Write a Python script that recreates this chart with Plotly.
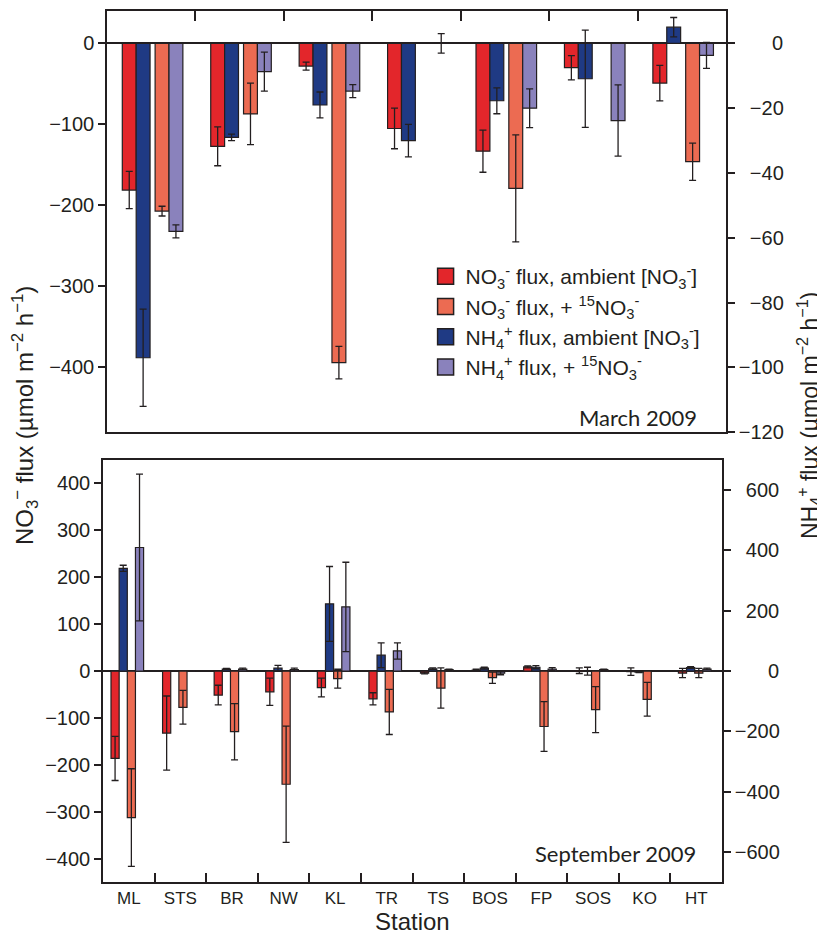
import plotly.graph_objects as go

# ---------------- data ----------------
# March 2009 (7 station groups; the panel shows no station labels)
mar_groups = ["M1", "M2", "M3", "M4", "M5", "M6", "M7"]
mar_no3_amb = [-181, -127, -28, -105, -133, -30, -49]
mar_no3_amb_err = [23, 24, 5, 25, 26, 15, 22]
mar_no3_15 = [-207, -87, -394, None, -179, None, -146]
mar_no3_15_err = [6, 38, 20, None, 66, None, 23]
mar_nh4_amb = [-97, -29, -19, -30, -17.7, -10.9, 5]          # right axis units
mar_nh4_amb_err = [15, 1, 4, 5, 4, 15, 3]
mar_nh4_15 = [-58, -8.7, -14.7, 0, -20, -23.8, -3.7]          # right axis units
mar_nh4_15_err = [2, 6, 2, 3, 6, 11, 4]

# September 2009
sep_stations = ["ML", "STS", "BR", "NW", "KL", "TR", "TS", "BOS", "FP", "SOS", "KO", "HT"]
sep_no3_amb = [-186, -132, -51, -44, -35, -59, -4, 2, 9, 1, -1, -4]
sep_no3_amb_err = [47, 79, 21, 29, 20, 13, 2, 2, 2, 6, 8, 10]
sep_no3_15 = [-312, -77, -129, -241, -16, -87, -36, -14, -118, -82, -60, -4]
sep_no3_15_err = [104, 36, 60, 124, 20, 48, 43, 12, 53, 49, 36, 10]
sep_nh4_amb = [341, 0, 7, 10, 223, 53, 8, 10, 13, 0, -3, 12]      # right axis units
sep_nh4_amb_err = [10, 0, 2, 9, 124, 41, 3, 3, 5, 13, 2, 3]
sep_nh4_15 = [410, 1, 7, 5, 213, 67, 5, -7, 7, 5, 0, 7]           # right axis units
sep_nh4_15_err = [243, 0, 3, 5, 148, 27, 2, 5, 5, 2, 0, 3]

# tick labels
mar_left_ticks = [0, -100, -200, -300, -400]
mar_right_ticks = [0, -20, -40, -60, -80, -100, -120]
mar_right_text = ["\u2007\u2007\u20070", "\u2007\u221220", "\u2007\u221240", "\u2007\u221260",
                  "\u2007\u221280", "\u2212100", "\u2212120"]
sep_left_ticks = [400, 300, 200, 100, 0, -100, -200, -300, -400]
sep_right_ticks = [600, 400, 200, 0, -200, -400, -600]
sep_right_text = ["\u2007600", "\u2007400", "\u2007200", "\u2007\u2007\u20070",
                  "\u2212200", "\u2212400", "\u2212600"]

legend_names = [
    "NO<sub>3</sub><sup>-</sup> flux, ambient [NO<sub>3</sub><sup>-</sup>]",
    "NO<sub>3</sub><sup>-</sup> flux, + <sup>15</sup>NO<sub>3</sub><sup>-</sup>",
    "NH<sub>4</sub><sup>+</sup> flux, ambient [NO<sub>3</sub><sup>-</sup>]",
    "NH<sub>4</sub><sup>+</sup> flux, + <sup>15</sup>NO<sub>3</sub><sup>-</sup>",
]

# ---------------- style ----------------
RED = "#E3262B"
ORANGE = "#EC6B52"
BLUE = "#1F3A84"
PURPLE = "#8A82BC"
INK = "#231F20"
OX, OY = 8, 8            # page body margin of the html page
W, H = 825 - OX, 941 - OY
FONT = "Liberation Sans, Arial, sans-serif"


def px(x):
    return (x - OX) / W


def py(y):
    return 1 - (y - OY) / H


fig = go.Figure()


def add_bars(x, y, err, color, offset, width, xa, ya):
    fig.add_trace(go.Bar(
        x=x, y=y, offset=offset, width=width, xaxis=xa, yaxis=ya,
        marker=dict(color=color, line=dict(color=INK, width=1.2)),
        error_y=dict(type="data", array=err, color=INK, thickness=1.3, width=3.5),
        showlegend=False, hoverinfo="x+y"))


# top panel (March)
tw = 0.157
add_bars(mar_groups, mar_no3_amb, mar_no3_amb_err, RED, -0.327, tw, "x", "y")
add_bars(mar_groups, mar_nh4_amb, mar_nh4_amb_err, BLUE, -0.170, tw, "x", "y2")
add_bars(mar_groups, mar_no3_15, mar_no3_15_err, ORANGE, 0.044, tw, "x", "y")
add_bars(mar_groups, mar_nh4_15, mar_nh4_15_err, PURPLE, 0.201, tw, "x", "y2")

# bottom panel (September)
bw = 0.158
add_bars(sep_stations, sep_no3_amb, sep_no3_amb_err, RED, -0.345, bw, "x2", "y3")
add_bars(sep_stations, sep_nh4_amb, sep_nh4_amb_err, BLUE, -0.187, bw, "x2", "y4")
add_bars(sep_stations, sep_no3_15, sep_no3_15_err, ORANGE, -0.029, bw, "x2", "y3")
add_bars(sep_stations, sep_nh4_15, sep_nh4_15_err, PURPLE, 0.129, bw, "x2", "y4")

# legend entries
for name, col in zip(legend_names, [RED, ORANGE, BLUE, PURPLE]):
    fig.add_trace(go.Scatter(
        x=[None], y=[None], mode="markers", name=name, xaxis="x", yaxis="y",
        marker=dict(symbol="square", size=19, color=col, line=dict(color=INK, width=1.5))))

axis_common = dict(showgrid=False, showline=True, linecolor=INK, linewidth=1.5,
                   tickcolor=INK, tickwidth=1.5, automargin=False,
                   tickfont=dict(family=FONT, size=20, color=INK))
xaxis_common = dict(axis_common, tickfont=dict(family=FONT, size=17, color=INK))

fig.update_layout(
    width=W, height=H, template="none",
    paper_bgcolor="white", plot_bgcolor="white",
    margin=dict(l=0, r=0, t=0, b=0),
    font=dict(family=FONT, color=INK),
    barmode="overlay",
    showlegend=True,
    legend=dict(x=px(425.6), y=py(256), xanchor="left", yanchor="top",
                bgcolor="rgba(0,0,0,0)", font=dict(family=FONT, size=21, color=INK),
                itemsizing="trace", tracegroupgap=0),
    xaxis=dict(domain=[px(107), px(726)], anchor="y", side="top", type="category",
               categoryorder="array", categoryarray=mar_groups, range=[-0.5, 6.5],
               tickson="boundaries", ticks="inside", ticklen=10, showticklabels=False,
               mirror=True, zeroline=False, **xaxis_common),
    yaxis=dict(domain=[py(432.3), py(11)], anchor="x", range=[-480, 40],
               tickvals=mar_left_ticks, ticks="outside", ticklen=7,
               zeroline=True, zerolinecolor=INK, zerolinewidth=1.5, **axis_common),
    yaxis2=dict(overlaying="y", anchor="x", side="right", range=[-120, 10],
                tickvals=mar_right_ticks, ticktext=mar_right_text,
                ticks="outside", ticklen=7, zeroline=False, **axis_common),
    xaxis2=dict(domain=[px(103), px(722)], anchor="y3", side="bottom", type="category",
                categoryorder="array", categoryarray=sep_stations, range=[-0.5, 11.5],
                tickson="boundaries", ticks="inside", ticklen=10, mirror=True, zeroline=False,
                **xaxis_common),
    yaxis3=dict(domain=[py(882.3), py(460)], anchor="x2", range=[-450, 450],
                tickvals=sep_left_ticks, ticks="outside", ticklen=7,
                zeroline=True, zerolinecolor=INK, zerolinewidth=1.5, **axis_common),
    yaxis4=dict(overlaying="y3", anchor="x2", side="right", range=[-700, 700],
                tickvals=sep_right_ticks, ticktext=sep_right_text,
                ticks="outside", ticklen=7, zeroline=False, **axis_common),
    annotations=[
        dict(text="March 2009", x=px(699), y=py(417), xref="paper", yref="paper",
             xanchor="right", yanchor="middle", showarrow=False,
             font=dict(family="Lato, sans-serif", size=22, color=INK)),
        dict(text="September 2009", x=px(698), y=py(853), xref="paper", yref="paper",
             xanchor="right", yanchor="middle", showarrow=False,
             font=dict(family="Lato, sans-serif", size=22, color=INK)),
        dict(text="Station", x=px(412), y=py(921), xref="paper", yref="paper",
             xanchor="center", yanchor="middle", showarrow=False,
             font=dict(family=FONT, size=24, color=INK)),
        dict(text="NO<sub>3</sub><sup>\u2212</sup> flux (\u00b5mol m<sup>\u22122</sup> h<sup>\u22121</sup>)",
             x=px(25), y=py(416), xref="paper", yref="paper", textangle=-90,
             xanchor="center", yanchor="middle", showarrow=False,
             font=dict(family=FONT, size=24, color=INK)),
        dict(text="NH<sub>4</sub><sup>+</sup> flux (\u00b5mol m<sup>\u22122</sup> h<sup>\u22121</sup>)",
             x=px(809), y=py(416), xref="paper", yref="paper", textangle=-90,
             xanchor="center", yanchor="middle", showarrow=False,
             font=dict(family=FONT, size=23, color=INK)),
    ],
)

fig.write_html("out.html")
